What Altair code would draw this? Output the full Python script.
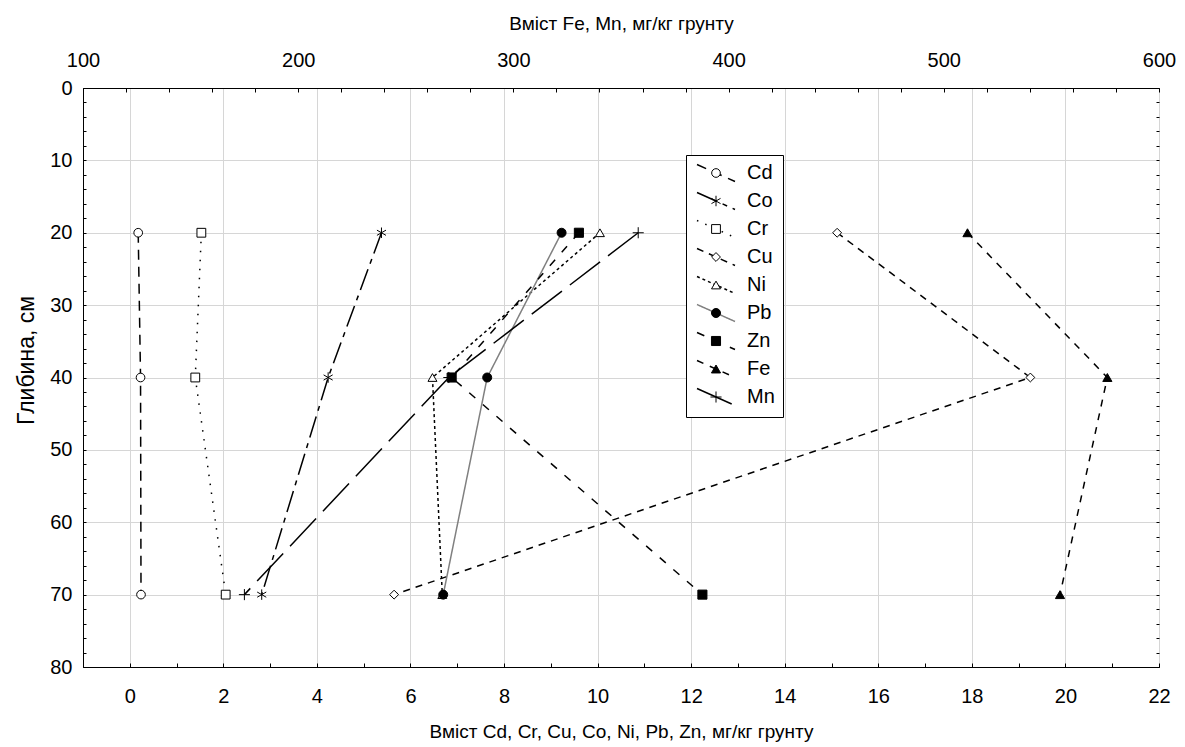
import altair as alt
import pandas as pd

FONT = "Liberation Sans"

# Sampling depths, cm
depth = [20, 40, 70]

# Trace metals, mg/kg of soil (bottom axis)
cd = [0.18, 0.23, 0.24]
co = [5.38, 4.24, 2.82]
cr = [1.53, 1.40, 2.05]
cu = [15.12, 19.25, 5.65]
ni = [10.05, 6.47, 6.68]
pb = [9.23, 7.64, 6.70]
zn = [9.60, 6.88, 12.24]

# Fe and Mn, mg/kg of soil (top axis)
fe = [511, 576, 554]
mn = [358, 270, 175]

low_series = {"Cd": cd, "Co": co, "Cr": cr, "Cu": cu, "Ni": ni, "Pb": pb, "Zn": zn}
top_series = {"Fe": fe, "Mn": mn}
legend_order = ["Cd", "Co", "Cr", "Cu", "Ni", "Pb", "Zn", "Fe", "Mn"]

# Styling per series, in legend order
line_colors = ["black", "black", "black", "black", "black", "#808080", "black", "black", "black"]
dashes = [[10, 7], [22, 6, 5, 6], [1.5, 7.5], [7, 6], [3, 3], [1, 0], [8, 10], [7, 7], [38, 10]]
shapes = [
    "circle",
    "M0,-1.2L0,1.2M-1.04,-0.6L1.04,0.6M-1.04,0.6L1.04,-0.6",
    "square",
    "diamond",
    "triangle-up",
    "circle",
    "square",
    "triangle-up",
    "M-1.2,0L1.2,0M0,-1.2L0,1.2",
]
fills = ["white", "white", "white", "white", "white", "black", "black", "black", "white"]
outlines = ["black"] * 9
marker_sizes = [75, 85, 70, 110, 90, 85, 95, 100, 90]


def frame(series):
    rows = []
    for name, vals in series.items():
        for d, v in zip(depth, vals):
            rows.append({"metal": name, "k": legend_order.index(name), "depth": d, "value": v})
    return pd.DataFrame(rows)


df_low = frame(low_series)
df_top = frame(top_series)

LEG_X, LEG_Y = 603, 67

line_legend = alt.Legend(
    title=None, orient="none", legendX=LEG_X, legendY=LEG_Y, padding=8, rowPadding=4,
    fillColor="white", strokeColor="black", cornerRadius=0,
    labelFont=FONT, labelFontSize=20, labelColor="black", labelOffset=21,
    symbolOffset=12, symbolType="M-3.8,-1.7L3.8,1.7", symbolSize=100,
    symbolStrokeWidth=1.5, zindex=1,
)
marker_legend = alt.Legend(
    title=None, orient="none", legendX=LEG_X, legendY=LEG_Y, padding=8, rowPadding=8,
    labelFont=FONT, labelFontSize=20, labelExpr="''", labelOffset=21,
    symbolOffset=12, symbolStrokeColor="black", symbolStrokeWidth=1,
    zindex=2,
)

k_domain = list(range(9))
color_enc = alt.Color("metal:N", scale=alt.Scale(domain=legend_order, range=line_colors), legend=line_legend)
dash_enc = alt.StrokeDash("metal:N", scale=alt.Scale(domain=legend_order, range=dashes), legend=line_legend)
shape_enc = alt.Shape("k:N", scale=alt.Scale(domain=k_domain, range=shapes), legend=marker_legend)
fill_enc = alt.Fill("k:N", scale=alt.Scale(domain=k_domain, range=fills), legend=marker_legend)
stroke_enc = alt.Stroke("k:N", scale=alt.Scale(domain=k_domain, range=outlines), legend=marker_legend)
size_enc = alt.Size("k:N", scale=alt.Scale(domain=k_domain, range=marker_sizes), legend=marker_legend)

y_scale = alt.Scale(domain=[0, 80], reverse=True, nice=False, zero=False)
x_low_scale = alt.Scale(domain=[-1, 22], nice=False, zero=False)
x_top_scale = alt.Scale(domain=[100, 600], nice=False, zero=False)

label_style = dict(labelFont=FONT, labelFontSize=20, labelColor="black", labelFlush=False, labelOverlap=False)
title_style = dict(titleFont=FONT, titleFontWeight="normal", titleColor="black")


def tick_axis(orient, values, size):
    return alt.Axis(orient=orient, values=values, ticks=True, tickSize=size, tickColor="black",
                    tickWidth=1, labels=False, domain=False, grid=False, offset=-size, title=None)


# Bottom axis layers: trace metals
x_low_main = alt.Axis(
    orient="bottom", values=list(range(0, 23, 2)), grid=True, gridColor="#d6d6d6", gridWidth=1,
    ticks=False, domain=True, domainColor="black", labelPadding=19,
    title="Вміст Cd, Cr, Cu, Co, Ni, Pb, Zn, мг/кг грунту", titleFontSize=19, titlePadding=16,
    **label_style, **title_style,
)
y_main = alt.Axis(
    orient="left", values=list(range(0, 81, 10)), grid=True, gridColor="#d6d6d6", gridWidth=1,
    ticks=False, domain=True, domainColor="black", labelPadding=11,
    title="Глибина, см", titleFontSize=23, titlePadding=11, titleY=272,
    **label_style, **title_style,
)

line_low = alt.Chart(df_low).mark_line(strokeWidth=1.5).encode(
    x=alt.X("value:Q", scale=x_low_scale, axis=x_low_main),
    y=alt.Y("depth:Q", scale=y_scale, axis=y_main),
    color=color_enc,
    strokeDash=dash_enc,
    order=alt.Order("depth:Q"),
    detail="metal:N",
)
point_low = alt.Chart(df_low).mark_point(filled=True, strokeWidth=1, opacity=1).encode(
    x=alt.X("value:Q", scale=x_low_scale, axis=tick_axis("bottom", list(range(-1, 23)), 4)),
    y=alt.Y("depth:Q", scale=y_scale, axis=tick_axis("left", list(range(0, 81, 2)), 3)),
    shape=shape_enc,
    fill=fill_enc,
    stroke=stroke_enc,
    size=size_enc,
)
layer_low = alt.layer(line_low, point_low).resolve_axis(x="independent", y="independent")

# Top axis layers: Fe and Mn
x_top_main = alt.Axis(
    orient="top", values=list(range(100, 601, 100)), grid=False, ticks=False, domain=True,
    domainColor="black", labelPadding=18,
    title="Вміст Fe, Mn, мг/кг грунту", titleFontSize=19, titlePadding=17,
    **label_style, **title_style,
)

line_top = alt.Chart(df_top).mark_line(strokeWidth=1.5).encode(
    x=alt.X("value:Q", scale=x_top_scale, axis=x_top_main),
    y=alt.Y("depth:Q", scale=y_scale, axis=tick_axis("right", list(range(0, 81, 2)), 3)),
    color=color_enc,
    strokeDash=dash_enc,
    order=alt.Order("depth:Q"),
    detail="metal:N",
)
point_top = alt.Chart(df_top).mark_point(filled=True, strokeWidth=1, opacity=1).encode(
    x=alt.X("value:Q", scale=x_top_scale, axis=tick_axis("top", list(range(100, 601, 20)), 4)),
    y=alt.Y("depth:Q", scale=y_scale, axis=None),
    shape=shape_enc,
    fill=fill_enc,
    stroke=stroke_enc,
    size=size_enc,
)
layer_top = alt.layer(line_top, point_top).resolve_axis(x="independent", y="independent")

chart = (
    alt.layer(layer_low, layer_top)
    .resolve_scale(x="independent")
    .resolve_axis(x="independent", y="independent")
    .properties(
        width=1076,
        height=579,
        autosize="none",
        padding={"left": 83, "top": 88, "right": 26, "bottom": 80},
        background="white",
    )
    .configure_view(stroke="black", strokeWidth=1)
)

chart.save("out.html", embed_options={"renderer": "svg", "actions": False})
